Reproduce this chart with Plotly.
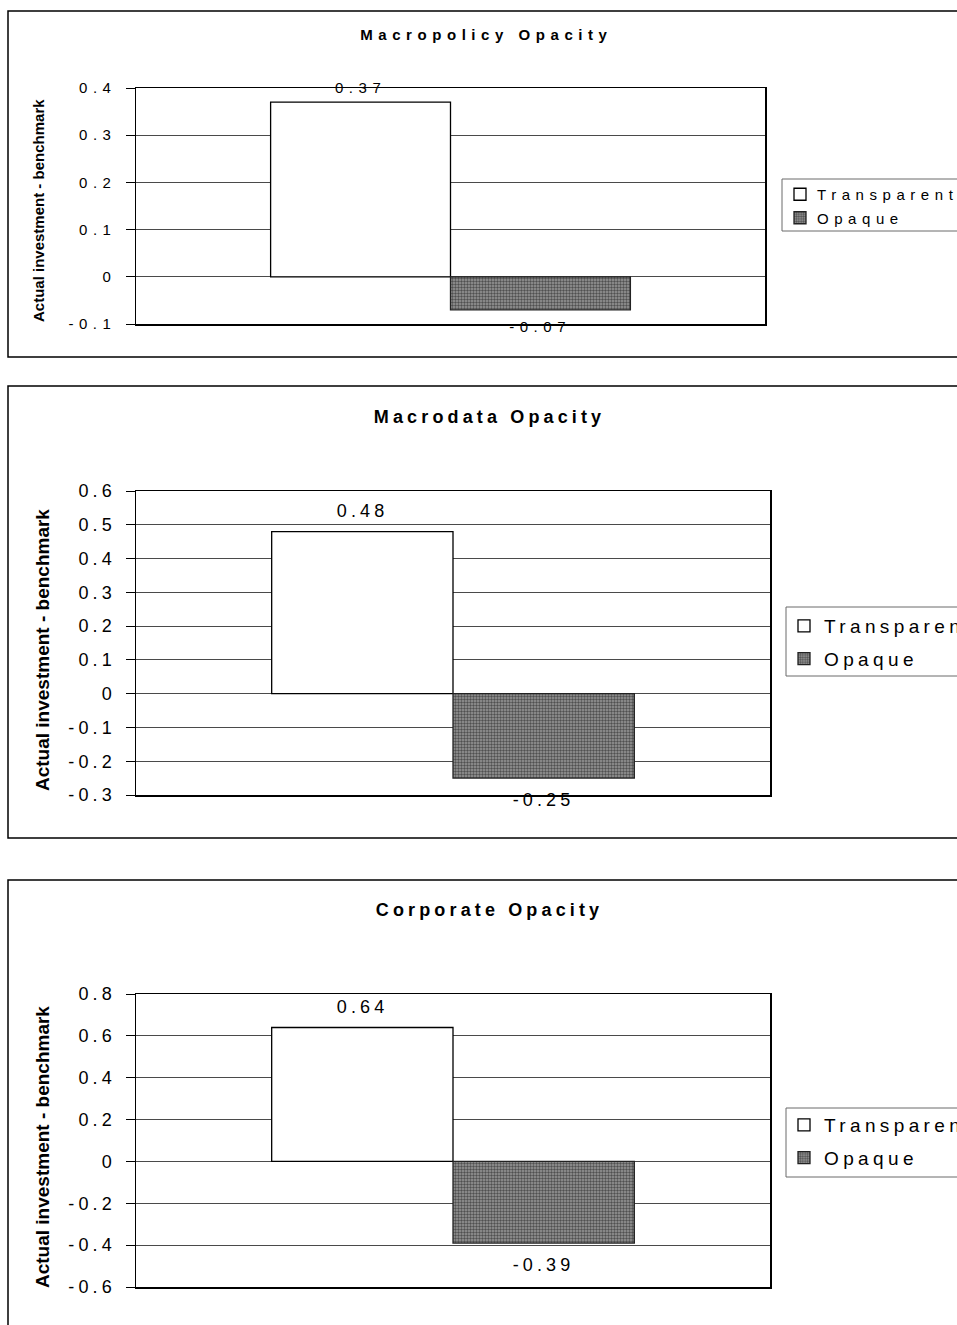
import plotly.graph_objects as go

W, H = 957, 1325

CATEGORY = ["Opacity"]
SERIES = ["Transparent", "Opaque"]
PANEL_TITLES = ["Macropolicy Opacity", "Macrodata Opacity", "Corporate Opacity"]
Y_TITLE = "Actual investment - benchmark"
MACROPOLICY = [0.37, -0.07]
MACRODATA = [0.48, -0.25]
CORPORATE = [0.64, -0.39]
P1_TICKS = ["-0.1", "0", "0.1", "0.2", "0.3", "0.4"]
P2_TICKS = ["-0.3", "-0.2", "-0.1", "0", "0.1", "0.2", "0.3", "0.4", "0.5", "0.6"]
P3_TICKS = ["-0.6", "-0.4", "-0.2", "0", "0.2", "0.4", "0.6", "0.8"]

SPACED = "Liberation Sans, Arial, sans-serif"
PLAIN = "Arial, Liberation Sans, sans-serif"
BARGAP = 0.428


def fx(px):
    return px / W


def fy(py):
    return 1 - py / H


panels = [
    dict(values=MACROPOLICY, ticks=P1_TICKS, title=PANEL_TITLES[0],
         plot_x=(136, 765), plot_y=(88, 324), fs=15, tfs=15, yfs=15,
         title_xy=(486, 34), ytitle_xy=(38, 211), frame=(11, 357),
         legbox=(782, 179, 231), leg_top=178, leg_gap=1, shift=(15, -17)),
    dict(values=MACRODATA, ticks=P2_TICKS, title=PANEL_TITLES[1],
         plot_x=(136, 770), plot_y=(491, 795), fs=18, tfs=18, yfs=19,
         title_xy=(489, 417), ytitle_xy=(42, 650), frame=(386, 838),
         legbox=(786, 607, 676), leg_top=607, leg_gap=5, shift=(21, -22)),
    dict(values=CORPORATE, ticks=P3_TICKS, title=PANEL_TITLES[2],
         plot_x=(136, 770), plot_y=(994, 1287), fs=18, tfs=18, yfs=19,
         title_xy=(490, 910), ytitle_xy=(42, 1147), frame=(880, 1345),
         legbox=(786, 1108, 1177), leg_top=1106, leg_gap=5, shift=(20, -22)),
]

MARKERS = [
    dict(color="white", line=dict(color="black", width=1.3)),
    dict(color="#828282", line=dict(color="#222222", width=1.3),
         pattern=dict(shape=".", size=3, solidity=0.5, fgcolor="#505050", bgcolor="#999999")),
]

fig = go.Figure()
layout = dict(
    template="none",
    width=W, height=H, margin=dict(l=0, r=0, t=0, b=0, pad=0, autoexpand=False),
    paper_bgcolor="white", plot_bgcolor="white",
    barmode="group", bargap=BARGAP, bargroupgap=0,
    showlegend=True, hovermode=False,
    font=dict(family=SPACED, color="black"),
)
annotations = []
shapes = []

for p, pn in enumerate(panels):
    sfx = "" if p == 0 else str(p + 1)
    xa, ya = "x" + sfx, "y" + sfx
    leg = "legend" + sfx
    for s, name in enumerate(SERIES):
        fig.add_trace(go.Bar(
            x=CATEGORY, y=[pn["values"][s]], name=name,
            xaxis=xa, yaxis=ya, legend=leg, legendgroup=f"{name}{p}",
            marker=MARKERS[s], showlegend=True,
        ))
        # data labels
        off = (s - 0.5) * (1 - BARGAP) / 2
        v = pn["values"][s]
        annotations.append(dict(
            x=off, y=v, xref=xa, yref=ya, text=f"{v:.2f}", showarrow=False,
            xanchor="center", yanchor="middle",
            yshift=pn["shift"][0] if v >= 0 else pn["shift"][1],
            font=dict(family=SPACED, size=pn["fs"], color="black"),
        ))
    tickvals = [float(t) for t in pn["ticks"]]
    x0, x1 = pn["plot_x"]
    yt, yb = pn["plot_y"]
    layout["xaxis" + sfx] = dict(
        domain=[fx(x0), fx(x1)], anchor=ya, showticklabels=False, ticks="",
        showgrid=False, zeroline=False, showline=True, mirror=True,
        linecolor="black", linewidth=1.5, fixedrange=True, automargin=False,
    )
    layout["yaxis" + sfx] = dict(
        domain=[fy(yb), fy(yt)], anchor=xa, range=[tickvals[0], tickvals[-1]],
        tickmode="array", tickvals=tickvals, ticktext=pn["ticks"],
        ticks="outside", ticklen=9, tickwidth=1, tickcolor="black",
        showgrid=True, gridcolor="#4a4a4a", gridwidth=1,
        zeroline=True, zerolinecolor="#4a4a4a", zerolinewidth=1,
        showline=True, mirror=True, linecolor="black", linewidth=1.5,
        tickfont=dict(family=SPACED, size=pn["tfs"], color="black"),
        ticklabelstandoff=6, fixedrange=True, automargin=False,
    )
    lx, lt, lb = pn["legbox"]
    layout[leg] = dict(
        x=fx(lx - 2), xanchor="left", y=fy(pn["leg_top"]), yanchor="top",
        bgcolor="rgba(0,0,0,0)", borderwidth=0,
        font=dict(family=SPACED, size=pn["yfs"], color="black"),
        tracegroupgap=pn["leg_gap"], traceorder="grouped",
    )
    shapes.append(dict(type="rect", xref="paper", yref="paper",
                       x0=fx(lx), x1=1.05, y0=fy(lb), y1=fy(lt),
                       line=dict(color="#6a6a6a", width=1), layer="below"))
    ft, fb = pn["frame"]
    shapes.append(dict(type="rect", xref="paper", yref="paper",
                       x0=fx(8), x1=1.05, y0=fy(fb), y1=fy(ft),
                       line=dict(color="black", width=1.5), layer="below"))
    tx, ty = pn["title_xy"]
    annotations.append(dict(
        x=fx(tx), y=fy(ty), xref="paper", yref="paper", text=pn["title"],
        showarrow=False, xanchor="center", yanchor="middle",
        font=dict(family=SPACED, size=pn["fs"], color="black", weight="bold"),
    ))
    ax_, ay_ = pn["ytitle_xy"]
    annotations.append(dict(
        x=fx(ax_), y=fy(ay_), xref="paper", yref="paper", text=Y_TITLE,
        showarrow=False, xanchor="center", yanchor="middle", textangle=-90,
        font=dict(family=PLAIN, size=pn["yfs"], color="black", weight="bold"),
    ))

layout["annotations"] = annotations
layout["shapes"] = shapes
fig.update_layout(**layout)

POST = """
document.documentElement.style.margin = '0';
document.documentElement.style.overflow = 'hidden';
document.body.style.margin = '0';
document.body.style.padding = '0';
document.body.style.overflow = 'hidden';
var gd = document.getElementById('{plot_id}');
function restyleTexts(){
  var texts = gd.getElementsByTagName('text');
  for (var i = 0; i < texts.length; i++) {
    var el = texts[i];
    var ff = (el.style.fontFamily || '').replace(/["']/g, '').trim().toLowerCase();
    if (ff.indexOf('arial') === 0) continue;
    var fs = parseFloat(el.style.fontSize);
    if (!fs) continue;
    var k = fs < 16.5 ? 0.37 : 0.23;
    el.style.letterSpacing = (k * fs).toFixed(2) + 'px';
    var cls = el.getAttribute('class') || '';
    if (cls.indexOf('legendtext') !== -1) {
      var nx = fs < 16.5 ? 37 : 29;
      el.setAttribute('x', nx);
      var ts = el.getElementsByTagName('tspan');
      for (var j = 0; j < ts.length; j++) {
        if (ts[j].hasAttribute('x')) ts[j].setAttribute('x', nx);
      }
    }
  }
  var clips = gd.querySelectorAll('[clip-path]');
  for (var c = 0; c < clips.length; c++) {
    var g = clips[c];
    var pcls = (g.getAttribute('class') || '');
    if (pcls.indexOf('scrollbox') !== -1 || pcls.indexOf('legend') === 0) {
      g.removeAttribute('clip-path');
    }
  }
}
restyleTexts();
setTimeout(restyleTexts, 50);
setTimeout(restyleTexts, 300);
"""

fig.write_html("out.html", post_script=POST,
               config={"displayModeBar": False, "staticPlot": True, "responsive": False})
